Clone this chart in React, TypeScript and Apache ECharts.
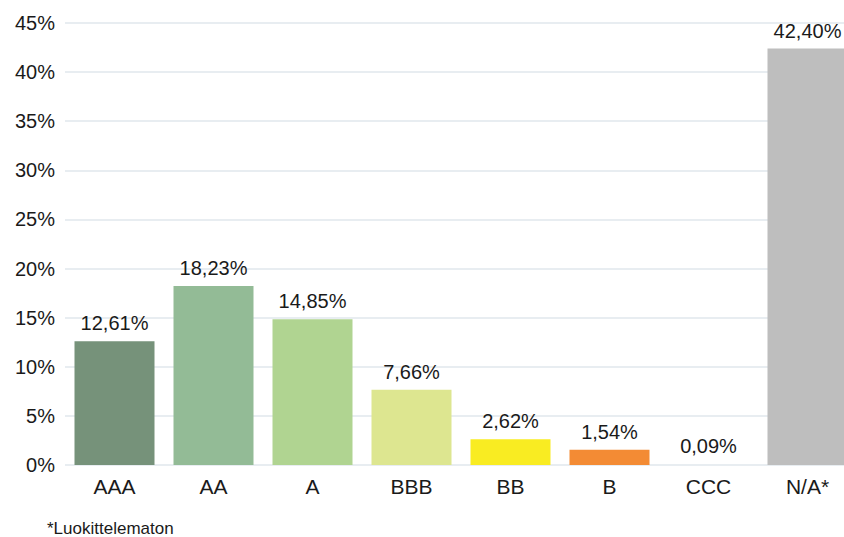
import React, { useEffect, useRef } from "react";
import * as echarts from "echarts";

const categories = ["AAA", "AA", "A", "BBB", "BB", "B", "CCC", "N/A*"];
const values = [12.61, 18.23, 14.85, 7.66, 2.62, 1.54, 0.09, 42.4];
const colors = ["#76927A", "#93BB96", "#B0D491", "#DDE690", "#F9EC22", "#F38B34", "#E8EDF1", "#BEBEBE"];
const yTicks = { min: 0, max: 45, interval: 5 };
const footnote = "*Luokittelematon";

const FONT = "'Liberation Sans', Arial, sans-serif";

export default function App() {
  const ref = useRef<HTMLDivElement>(null);
  useEffect(() => {
    if (!ref.current) return;
    const chart = echarts.init(ref.current, undefined, { renderer: "svg" });
    chart.setOption({
      animation: false,
      grid: { left: 65, width: 792, top: 23, bottom: 72, outerBoundsMode: "none", containLabel: false },
      xAxis: {
        type: "category",
        data: categories,
        axisLine: { show: false },
        axisTick: { show: false },
        axisLabel: { color: "#1a1a1a", fontSize: 21, fontFamily: FONT, margin: 11 },
      },
      yAxis: {
        type: "value",
        min: yTicks.min,
        max: yTicks.max,
        interval: yTicks.interval,
        axisLine: { show: false },
        axisTick: { show: false },
        axisLabel: { formatter: "{value}%", color: "#1a1a1a", fontSize: 20, fontFamily: FONT, margin: 10 },
        splitLine: { lineStyle: { color: "#E8EDF1", width: 2 } },
      },
      series: [
        {
          type: "bar",
          barWidth: 80,
          data: values.map((v, i) => ({ value: v, itemStyle: { color: colors[i] } })),
          label: {
            show: true,
            position: "top",
            distance: 8,
            color: "#1a1a1a",
            fontSize: 20,
            fontFamily: FONT,
            formatter: (p: any) => p.value.toFixed(2).replace(".", ",") + "%",
          },
        },
      ],
      graphic: [
        {
          type: "text",
          x: 47,
          y: 528,
          style: { text: footnote, fill: "#1a1a1a", fontSize: 17, fontFamily: FONT, verticalAlign: "middle" },
        },
      ],
    });
    return () => chart.dispose();
  }, []);
  return <div ref={ref} style={{ width: 844, height: 537, position: "absolute", left: 0, top: 0 }} />;
}
